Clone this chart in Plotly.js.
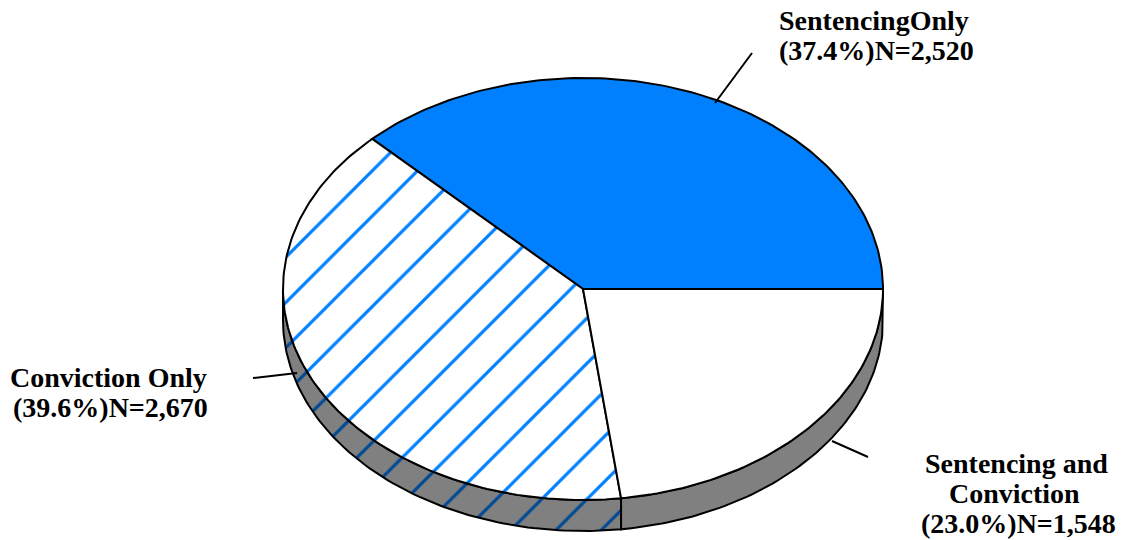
<!DOCTYPE html>
<html>
<head>
<meta charset="utf-8">
<script src="https://cdn.plot.ly/plotly-3.0.1.min.js"></script>
<style>html,body{margin:0;padding:0;background:#fff;}#chart{width:1125px;height:540px;}</style>
</head>
<body>
<div id="chart"></div>
<script>
// ---- data ----
const categories = ["SentencingOnly", "Conviction Only", "Sentencing and Conviction"];
const counts = [2520, 2670, 1548];
const percents = [37.4, 39.6, 23.0];
const labelLines = [
  ["SentencingOnly", "(37.4%)N=2,520"],
  ["Conviction Only", "(39.6%)N=2,670"],
  ["Sentencing and", "Conviction", "(23.0%)N=1,548"]
];

// ---- geometry / style (layout, not data) ----
const CX = 583, CY = 289, RX = 300, RY = 211, DEPTH = 31;
const topFill = ["#0080FF", "#FFFFFF", "#FFFFFF"];
const topPattern = [null, {shape: "/", bgcolor: "#FFFFFF", fgcolor: "#0080FF", size: 32, solidity: 0.1}, null];
const sideFill = ["#808080", "#808080", "#808080"];
const sidePattern = [null, {shape: "/", bgcolor: "#808080", fgcolor: "#004A94", size: 32, solidity: 0.1}, null];

function pt(deg, dy) {
  const r = deg * Math.PI / 180;
  return [CX + RX * Math.cos(r), CY - RY * Math.sin(r) + (dy || 0)];
}

const total = counts.reduce((a, b) => a + b, 0);
const bounds = [0];
counts.forEach((c, i) => bounds.push(bounds[i] + c / total * 360));

const traces = [];
// side walls (visible lower half 180..360)
for (let i = 0; i < counts.length; i++) {
  const a = Math.max(bounds[i], 180), b = Math.min(bounds[i + 1], 360);
  if (b <= a) continue;
  const xs = [], ys = [];
  const n = Math.max(2, Math.ceil((b - a) / 1));
  for (let k = 0; k <= n; k++) { const p = pt(a + (b - a) * k / n, 0); xs.push(p[0]); ys.push(p[1]); }
  for (let k = n; k >= 0; k--) { const p = pt(a + (b - a) * k / n, DEPTH); xs.push(p[0]); ys.push(p[1]); }
  xs.push(xs[0]); ys.push(ys[0]);
  const t = {x: xs, y: ys, type: "scatter", mode: "lines", fill: "toself", fillcolor: sideFill[i],
    line: {color: "#000", width: 2}, hoverinfo: "skip", name: categories[i]};
  if (sidePattern[i]) t.fillpattern = sidePattern[i];
  traces.push(t);
}
// top slices
for (let i = 0; i < counts.length; i++) {
  const a = bounds[i], b = bounds[i + 1];
  const xs = [CX], ys = [CY];
  const n = Math.max(2, Math.ceil(b - a));
  for (let k = 0; k <= n; k++) { const p = pt(a + (b - a) * k / n, 0); xs.push(p[0]); ys.push(p[1]); }
  xs.push(CX); ys.push(CY);
  const t = {x: xs, y: ys, type: "scatter", mode: "lines", fill: "toself", fillcolor: topFill[i],
    line: {color: "#000", width: 2}, name: categories[i],
    text: categories[i] + " " + percents[i] + "% N=" + counts[i], hoverinfo: "text"};
  if (topPattern[i]) t.fillpattern = topPattern[i];
  traces.push(t);
}

const font = {family: "'Liberation Serif', 'Times New Roman', serif", size: 28, color: "#000"};
const labelPos = [
  [[874, 20], [876, 50]],
  [[108, 377], [110, 407]],
  [[1016, 463], [1014, 493], [1018, 523]]
];
const annotations = [];
labelLines.forEach((lines, i) => lines.forEach((txt, j) => {
  annotations.push({x: labelPos[i][j][0], y: labelPos[i][j][1], xref: "x", yref: "y",
    text: "<b>" + txt + "</b>", showarrow: false, font: font, xanchor: "center", yanchor: "middle"});
}));

const shapes = [
  {type: "line", x0: 752, y0: 53, x1: 715, y1: 103, xref: "x", yref: "y", line: {color: "#000", width: 2}},
  {type: "line", x0: 253, y0: 378, x1: 297, y1: 373, xref: "x", yref: "y", line: {color: "#000", width: 2}},
  {type: "line", x0: 832, y0: 441, x1: 868, y1: 457, xref: "x", yref: "y", line: {color: "#000", width: 2}}
];

const layout = {
  width: 1125, height: 540,
  margin: {l: 0, r: 0, t: 0, b: 0, pad: 0},
  paper_bgcolor: "#fff", plot_bgcolor: "#fff",
  showlegend: false,
  xaxis: {range: [0, 1125], visible: false, fixedrange: true},
  yaxis: {range: [540, 0], visible: false, fixedrange: true},
  annotations: annotations,
  shapes: shapes
};

Plotly.newPlot("chart", traces, layout, {displayModeBar: false, staticPlot: true});
</script>
</body>
</html>
